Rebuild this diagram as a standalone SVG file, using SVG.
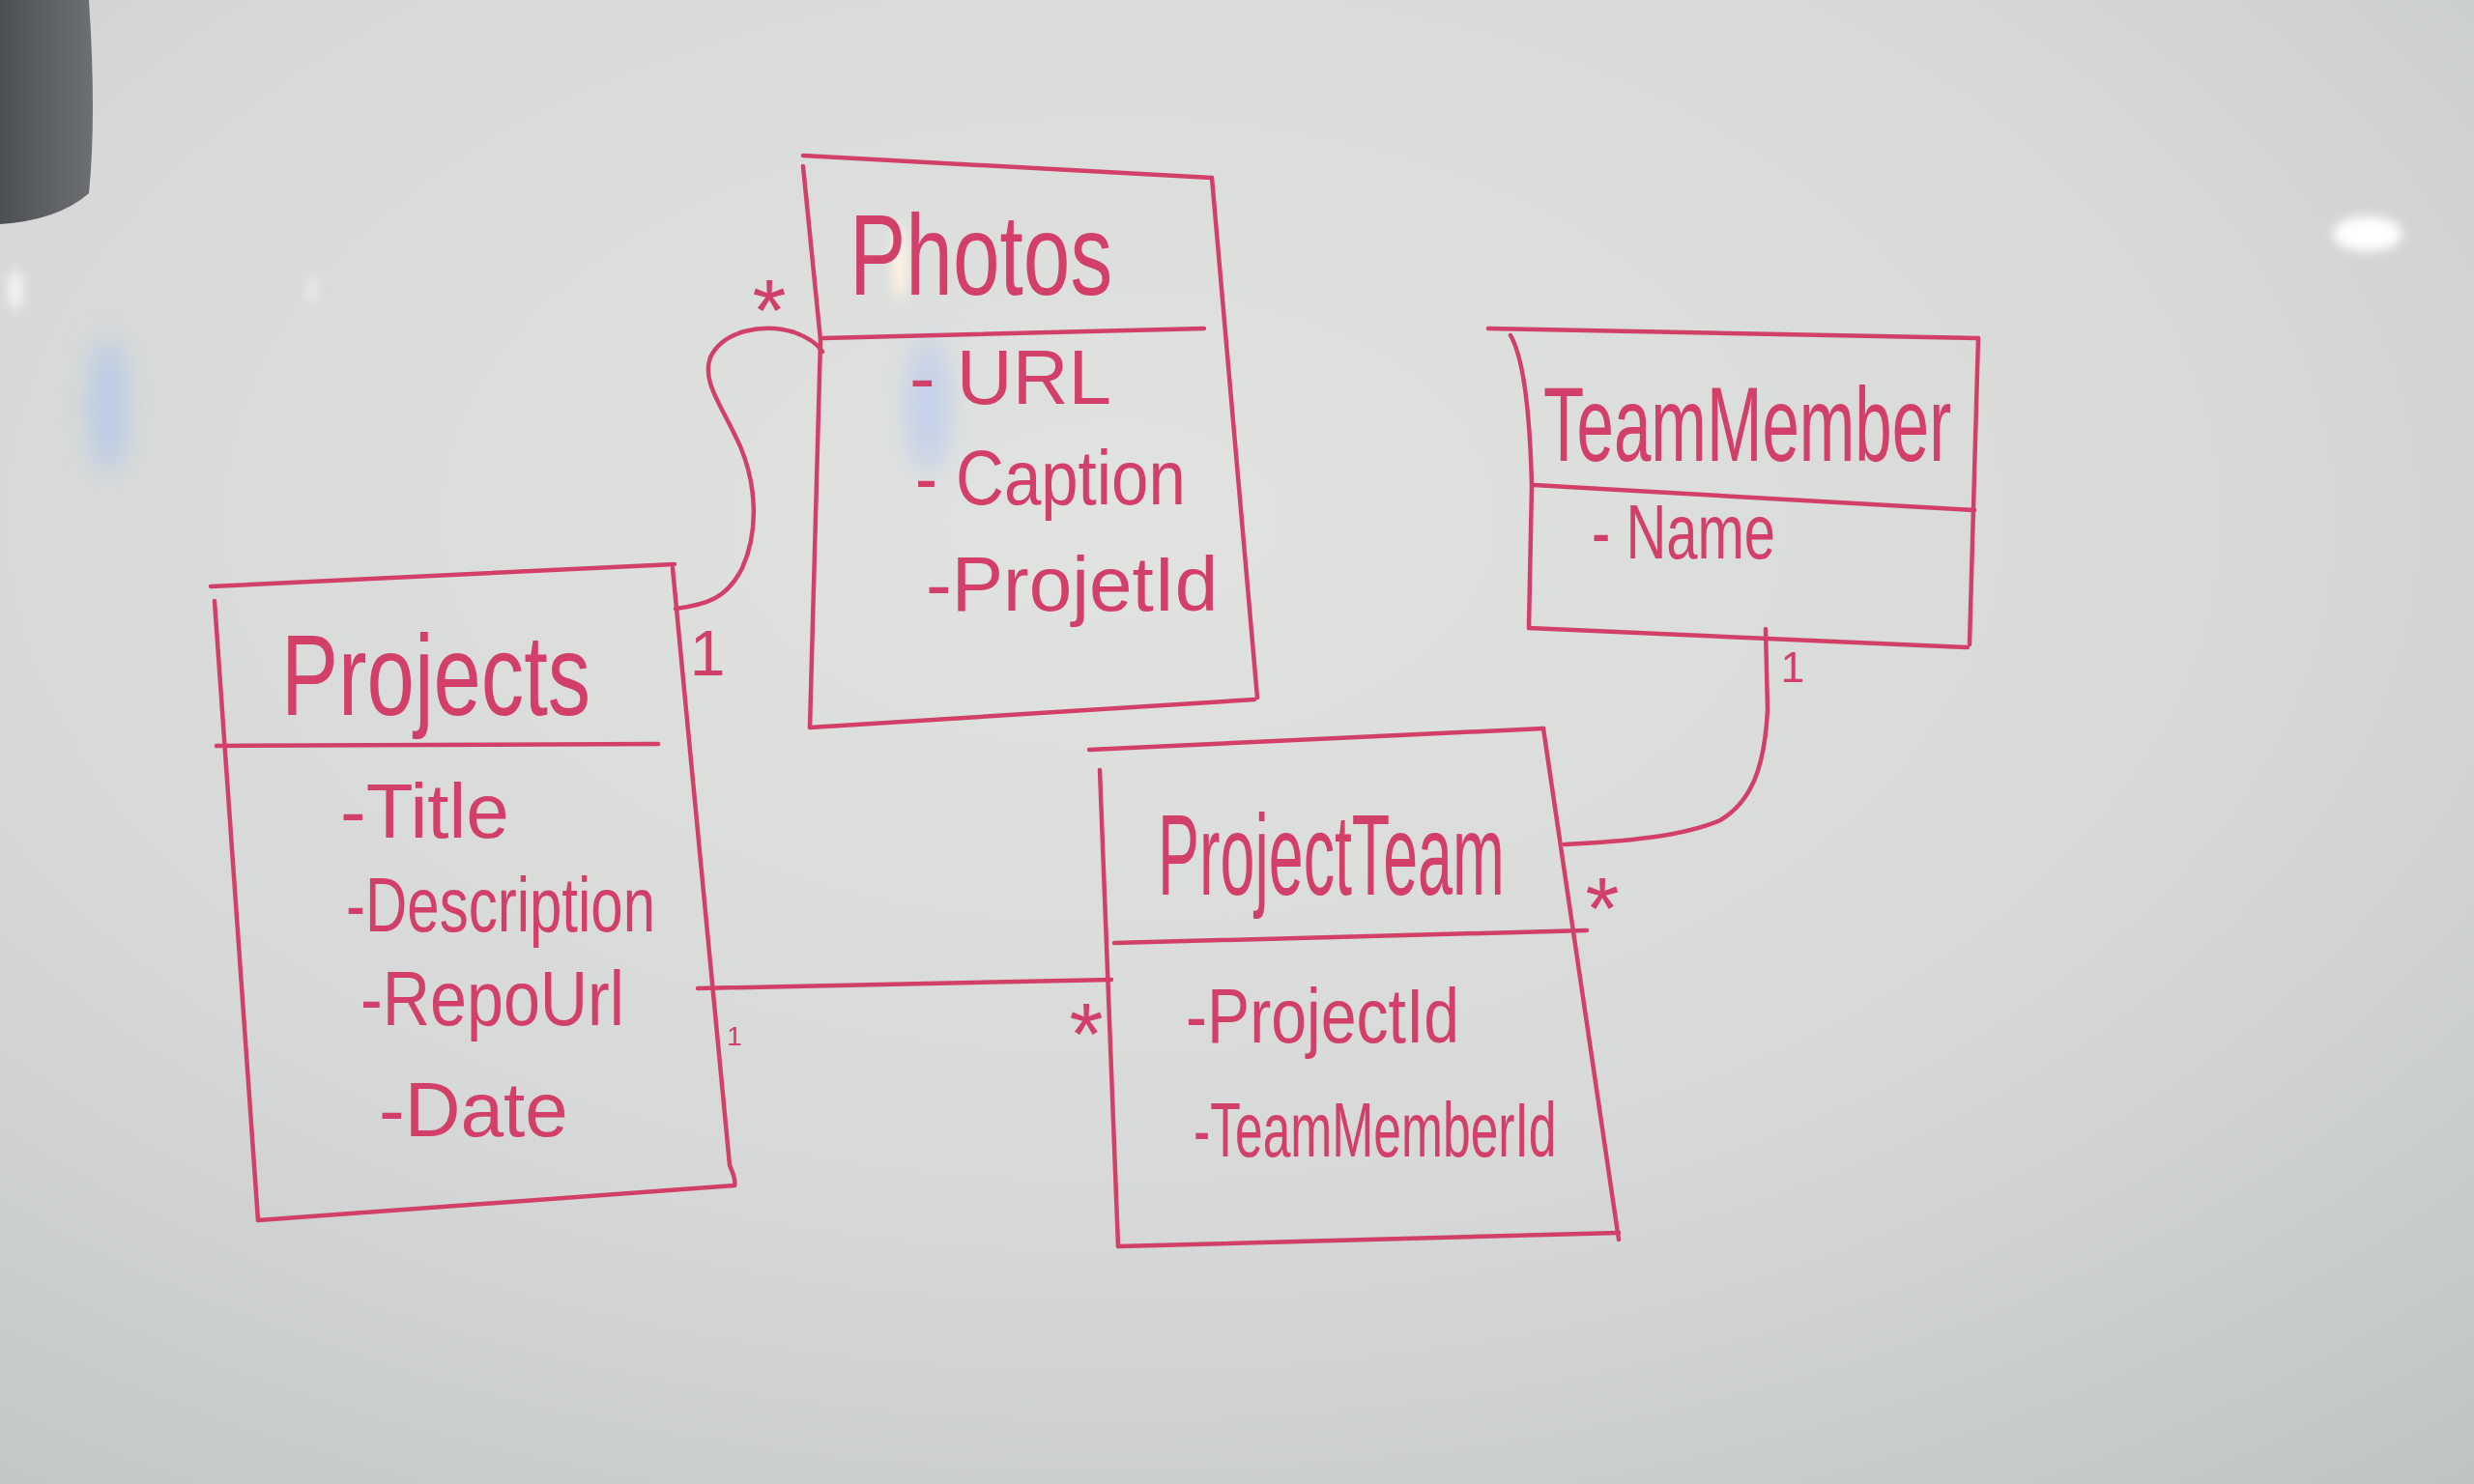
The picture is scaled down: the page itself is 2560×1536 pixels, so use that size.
<svg xmlns="http://www.w3.org/2000/svg" width="2560" height="1536" viewBox="0 0 2560 1536">
<defs>
  <radialGradient id="board" cx="0.45" cy="0.35" r="0.85">
    <stop offset="0" stop-color="#e1e3e1"/>
    <stop offset="0.55" stop-color="#d6d9d7"/>
    <stop offset="1" stop-color="#bfc4c3"/>
  </radialGradient>
  <linearGradient id="corner" x1="0" y1="0" x2="1" y2="0">
    <stop offset="0" stop-color="#4d5052"/>
    <stop offset="1" stop-color="#6d7072"/>
  </linearGradient>
  <filter id="blur" x="-1" y="-1" width="3" height="3"><feGaussianBlur stdDeviation="14"/></filter>
  <filter id="blur2" x="-1" y="-1" width="3" height="3"><feGaussianBlur stdDeviation="6"/></filter>
  <style>
    .ink{fill:none;stroke:#d2406a;stroke-width:4.5;stroke-linecap:round;stroke-linejoin:round}
    .t{fill:#d2406a;font-family:"Liberation Sans",Arial,sans-serif}
    .title{font-size:118px}
    .item{font-size:80px}
    .mult{font-size:90px}
  </style>
</defs>
<g id="background">
  <rect width="2560" height="1536" fill="url(#board)"/>
  <path d="M0,0 L92,0 Q100,120 92,200 Q60,228 0,232 Z" fill="url(#corner)"/>
  <ellipse cx="2450" cy="242" rx="36" ry="18" fill="#ffffff" filter="url(#blur2)"/>
  <ellipse cx="16" cy="300" rx="8" ry="22" fill="#f4f4f2" filter="url(#blur2)"/>
  <ellipse cx="323" cy="300" rx="5" ry="14" fill="#eeeeec" filter="url(#blur2)"/>
  <ellipse cx="112" cy="420" rx="20" ry="70" fill="#b9cbe6" filter="url(#blur)"/>
  <ellipse cx="960" cy="420" rx="22" ry="70" fill="#c3d0ea" filter="url(#blur)"/>
  <ellipse cx="931" cy="270" rx="8" ry="40" fill="#fff3e4" filter="url(#blur2)"/>
</g>

<g id="connectors">
  <path class="ink" d="M699,630 C730,626 752,620 768,588 C786,548 782,500 766,462 C746,418 726,395 735,370 C748,342 790,334 822,344 C838,350 846,356 851,364"/>
  <path class="ink" d="M722,1023 L1150,1014"/>
  <path class="ink" d="M1619,874 C1680,871 1740,866 1780,849 C1812,830 1826,795 1829,735 L1827,651"/>
  <text class="t mult" x="796" y="353" text-anchor="middle">*</text>
  <text class="t" x="732" y="699" text-anchor="middle" font-size="66">1</text>
  <text class="t" x="760" y="1082" text-anchor="middle" font-size="28">1</text>
  <text class="t mult" x="1124" y="1102" text-anchor="middle">*</text>
  <text class="t mult" x="1658" y="972" text-anchor="middle">*</text>
  <text class="t" x="1855" y="706" text-anchor="middle" font-size="44">1</text>
</g>

<g id="photos">
  <path class="ink" d="M831,161 L1254,184"/>
  <path class="ink" d="M831,172 L849,352 L838,753"/>
  <path class="ink" d="M838,753 L1298,724"/>
  <path class="ink" d="M1254,184 L1301,722"/>
  <path class="ink" d="M852,350 L1246,340"/>
  <text class="t title" transform="translate(879,305) scale(0.741,1)">Photos</text>
  <text class="t item" x="941" y="418">- URL</text>
  <text class="t item" transform="translate(947,522) scale(0.862,1)">- Caption</text>
  <text class="t item" x="958" y="632">-ProjetId</text>
</g>

<g id="projects">
  <path class="ink" d="M218,607 L698,584"/>
  <path class="ink" d="M222,622 L267,1263"/>
  <path class="ink" d="M267,1263 L760,1227"/>
  <path class="ink" d="M696,588 L755,1206 Q762,1222 760,1227"/>
  <path class="ink" d="M224,772 L681,770"/>
  <text class="t title" transform="translate(291,740) scale(0.751,1)">Projects</text>
  <text class="t item" x="352" y="867">-Title</text>
  <text class="t item" transform="translate(358,964) scale(0.75,1)">-Description</text>
  <text class="t item" transform="translate(373,1061) scale(0.853,1)">-RepoUrl</text>
  <text class="t item" x="392" y="1176">-Date</text>
</g>

<g id="teammember">
  <path class="ink" d="M1540,340 L2047,350"/>
  <path class="ink" d="M1563,347 Q1582,380 1585,503 L1582,650"/>
  <path class="ink" d="M1582,650 L2036,670"/>
  <path class="ink" d="M2047,350 L2038,667"/>
  <path class="ink" d="M1587,502 L2043,528"/>
  <text class="t" font-size="110" transform="translate(1597,477) scale(0.628,1)">TeamMember</text>
  <text class="t item" transform="translate(1647,578) scale(0.725,1)">- Name</text>
</g>

<g id="projectteam">
  <path class="ink" d="M1127,776 L1597,754"/>
  <path class="ink" d="M1138,797 L1157,1290"/>
  <path class="ink" d="M1597,754 L1675,1283"/>
  <path class="ink" d="M1157,1290 L1675,1276"/>
  <path class="ink" d="M1153,976 L1642,963"/>
  <text class="t title" transform="translate(1198,926) scale(0.547,1)">ProjectTeam</text>
  <text class="t item" transform="translate(1227,1079) scale(0.827,1)">-ProjectId</text>
  <text class="t item" transform="translate(1235,1197) scale(0.645,1)">-TeamMemberId</text>
</g>
</svg>
